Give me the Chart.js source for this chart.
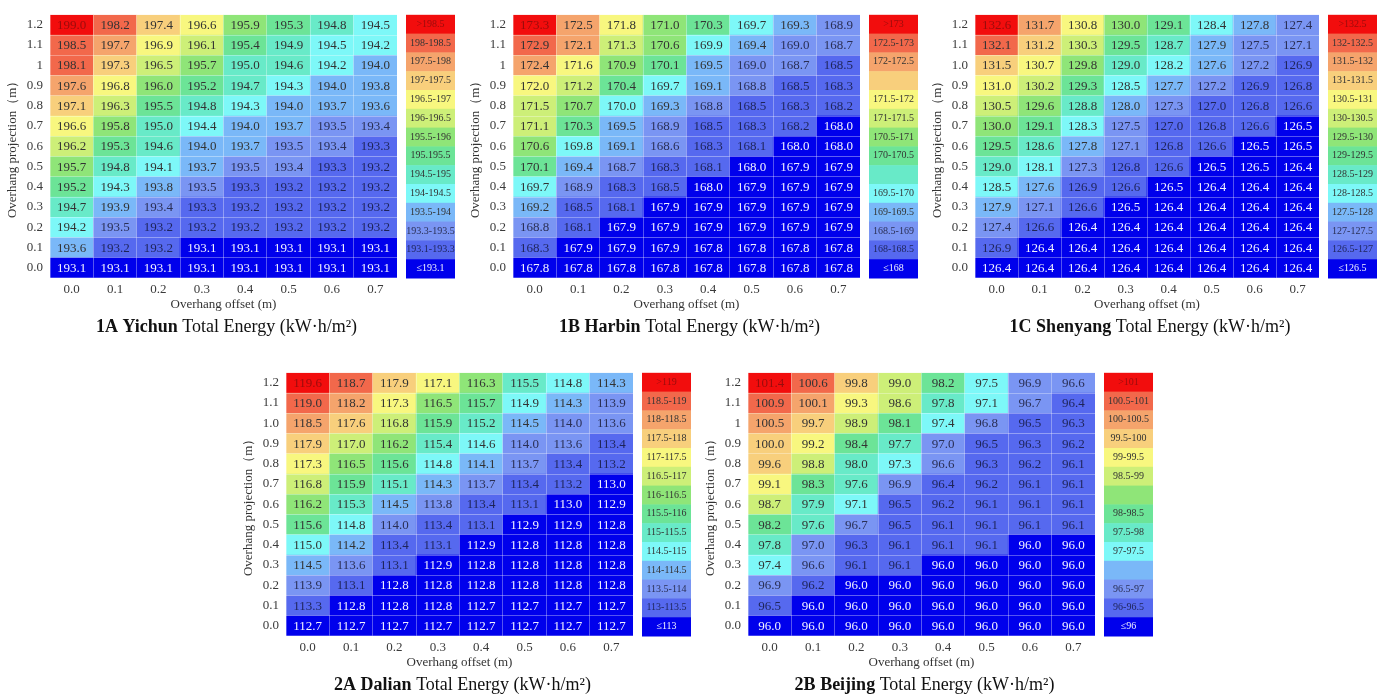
<!DOCTYPE html>
<html>
<head>
<meta charset="utf-8">
<title>Total Energy vs overhang</title>
<script src="https://cdn.jsdelivr.net/npm/chart.js"></script>
<style>
  html, body { margin: 0; padding: 0; background: #fff; overflow: hidden; }
  body { width: 1392px; height: 697px; position: relative; }
  .panel { position: absolute; }
</style>
</head>
<body>
<div class="panel" style="left:0px;top:0px"><canvas id="c1A" width="470" height="340"></canvas></div>
<div class="panel" style="left:463px;top:0px"><canvas id="c1B" width="470" height="340"></canvas></div>
<div class="panel" style="left:925px;top:0px"><canvas id="c1C" width="467" height="340"></canvas></div>
<div class="panel" style="left:236px;top:358px"><canvas id="c2A" width="470" height="340"></canvas></div>
<div class="panel" style="left:698px;top:358px"><canvas id="c2B" width="470" height="340"></canvas></div>

<script>
// x categories: overhang offset (m)
const offsets = ["0.0", "0.1", "0.2", "0.3", "0.4", "0.5", "0.6", "0.7"];

// y labels: overhang projection (m), bottom to top
const projShort = ["0.0", "0.1", "0.2", "0.3", "0.4", "0.5", "0.6", "0.7", "0.8", "0.9", "1", "1.1", "1.2"];
const projLong = ["0.0", "0.1", "0.2", "0.3", "0.4", "0.5", "0.6", "0.7", "0.8", "0.9", "1.0", "1.1", "1.2"];

// bin colours, top (highest) to bottom (lowest)
const binColors = [
  "#f20d0d", "#f2684b", "#f5a46c", "#f8cf7c", "#f8f77f", "#cdef78", "#8fe578",
  "#6ce497", "#68eac8", "#7df8f8", "#7ab8f8", "#7a95f3", "#5669ef", "#0000ec"
];
const binText = [
  "#9a0c0c", "#333", "#333", "#333", "#333", "#333", "#333",
  "#333", "#333", "#333", "#333", "#2a2f55", "#1e2459", "#f2f2ff"
];

// ---- 1A Yichun (rows from 1.2 down to 0.0) ----
const yichun = [
  [199.0, 198.2, 197.4, 196.6, 195.9, 195.3, 194.8, 194.5],
  [198.5, 197.7, 196.9, 196.1, 195.4, 194.9, 194.5, 194.2],
  [198.1, 197.3, 196.5, 195.7, 195.0, 194.6, 194.2, 194.0],
  [197.6, 196.8, 196.0, 195.2, 194.7, 194.3, 194.0, 193.8],
  [197.1, 196.3, 195.5, 194.8, 194.3, 194.0, 193.7, 193.6],
  [196.6, 195.8, 195.0, 194.4, 194.0, 193.7, 193.5, 193.4],
  [196.2, 195.3, 194.6, 194.0, 193.7, 193.5, 193.4, 193.3],
  [195.7, 194.8, 194.1, 193.7, 193.5, 193.4, 193.3, 193.2],
  [195.2, 194.3, 193.8, 193.5, 193.3, 193.2, 193.2, 193.2],
  [194.7, 193.9, 193.4, 193.3, 193.2, 193.2, 193.2, 193.2],
  [194.2, 193.5, 193.2, 193.2, 193.2, 193.2, 193.2, 193.2],
  [193.6, 193.2, 193.2, 193.1, 193.1, 193.1, 193.1, 193.1],
  [193.1, 193.1, 193.1, 193.1, 193.1, 193.1, 193.1, 193.1]
];
const yichunBreaks = [198.5, 198, 197.5, 197, 196.5, 196, 195.5, 195, 194.5, 194, 193.5, 193.3, 193.1];
const yichunKeys = [">198.5", "198-198.5", "197.5-198", "197-197.5", "196.5-197", "196-196.5", "195.5-196",
  "195.195.5", "194.5-195", "194-194.5", "193.5-194", "193.3-193.5", "193.1-193.3", "≤193.1"];

// ---- 1B Harbin ----
const harbin = [
  [173.3, 172.5, 171.8, 171.0, 170.3, 169.7, 169.3, 168.9],
  [172.9, 172.1, 171.3, 170.6, 169.9, 169.4, 169.0, 168.7],
  [172.4, 171.6, 170.9, 170.1, 169.5, 169.0, 168.7, 168.5],
  [172.0, 171.2, 170.4, 169.7, 169.1, 168.8, 168.5, 168.3],
  [171.5, 170.7, 170.0, 169.3, 168.8, 168.5, 168.3, 168.2],
  [171.1, 170.3, 169.5, 168.9, 168.5, 168.3, 168.2, 168.0],
  [170.6, 169.8, 169.1, 168.6, 168.3, 168.1, 168.0, 168.0],
  [170.1, 169.4, 168.7, 168.3, 168.1, 168.0, 167.9, 167.9],
  [169.7, 168.9, 168.3, 168.5, 168.0, 167.9, 167.9, 167.9],
  [169.2, 168.5, 168.1, 167.9, 167.9, 167.9, 167.9, 167.9],
  [168.8, 168.1, 167.9, 167.9, 167.9, 167.9, 167.9, 167.9],
  [168.3, 167.9, 167.9, 167.9, 167.8, 167.8, 167.8, 167.8],
  [167.8, 167.8, 167.8, 167.8, 167.8, 167.8, 167.8, 167.8]
];
const harbinBreaks = [173, 172.5, 172, 172, 171.5, 171, 170.5, 170, 170, 169.5, 169, 168.5, 168];
const harbinKeys = [">173", "172.5-173", "172-172.5", "", "171.5-172", "171-171.5", "170.5-171",
  "170-170.5", "", "169.5-170", "169-169.5", "168.5-169", "168-168.5", "≤168"];

// ---- 1C Shenyang ----
const shenyang = [
  [132.6, 131.7, 130.8, 130.0, 129.1, 128.4, 127.8, 127.4],
  [132.1, 131.2, 130.3, 129.5, 128.7, 127.9, 127.5, 127.1],
  [131.5, 130.7, 129.8, 129.0, 128.2, 127.6, 127.2, 126.9],
  [131.0, 130.2, 129.3, 128.5, 127.7, 127.2, 126.9, 126.8],
  [130.5, 129.6, 128.8, 128.0, 127.3, 127.0, 126.8, 126.6],
  [130.0, 129.1, 128.3, 127.5, 127.0, 126.8, 126.6, 126.5],
  [129.5, 128.6, 127.8, 127.1, 126.8, 126.6, 126.5, 126.5],
  [129.0, 128.1, 127.3, 126.8, 126.6, 126.5, 126.5, 126.4],
  [128.5, 127.6, 126.9, 126.6, 126.5, 126.4, 126.4, 126.4],
  [127.9, 127.1, 126.6, 126.5, 126.4, 126.4, 126.4, 126.4],
  [127.4, 126.6, 126.4, 126.4, 126.4, 126.4, 126.4, 126.4],
  [126.9, 126.4, 126.4, 126.4, 126.4, 126.4, 126.4, 126.4],
  [126.4, 126.4, 126.4, 126.4, 126.4, 126.4, 126.4, 126.4]
];
const shenyangBreaks = [132.5, 132, 131.5, 131, 130.5, 130, 129.5, 129, 128.5, 128, 127.5, 127, 126.5];
const shenyangKeys = [">132.5", "132-132.5", "131.5-132", "131-131.5", "130.5-131", "130-130.5", "129.5-130",
  "129-129.5", "128.5-129", "128-128.5", "127.5-128", "127-127.5", "126.5-127", "≤126.5"];

// ---- 2A Dalian ----
const dalian = [
  [119.6, 118.7, 117.9, 117.1, 116.3, 115.5, 114.8, 114.3],
  [119.0, 118.2, 117.3, 116.5, 115.7, 114.9, 114.3, 113.9],
  [118.5, 117.6, 116.8, 115.9, 115.2, 114.5, 114.0, 113.6],
  [117.9, 117.0, 116.2, 115.4, 114.6, 114.0, 113.6, 113.4],
  [117.3, 116.5, 115.6, 114.8, 114.1, 113.7, 113.4, 113.2],
  [116.8, 115.9, 115.1, 114.3, 113.7, 113.4, 113.2, 113.0],
  [116.2, 115.3, 114.5, 113.8, 113.4, 113.1, 113.0, 112.9],
  [115.6, 114.8, 114.0, 113.4, 113.1, 112.9, 112.9, 112.8],
  [115.0, 114.2, 113.4, 113.1, 112.9, 112.8, 112.8, 112.8],
  [114.5, 113.6, 113.1, 112.9, 112.8, 112.8, 112.8, 112.8],
  [113.9, 113.1, 112.8, 112.8, 112.8, 112.8, 112.8, 112.8],
  [113.3, 112.8, 112.8, 112.8, 112.7, 112.7, 112.7, 112.7],
  [112.7, 112.7, 112.7, 112.7, 112.7, 112.7, 112.7, 112.7]
];
const dalianBreaks = [119, 118.5, 118, 117.5, 117, 116.5, 116, 115.5, 115, 114.5, 114, 113.5, 113];
const dalianKeys = [">119", "118.5-119", "118-118.5", "117.5-118", "117-117.5", "116.5-117", "116-116.5",
  "115.5-116", "115-115.5", "114.5-115", "114-114.5", "113.5-114", "113-113.5", "≤113"];

// ---- 2B Beijing ----
const beijing = [
  [101.4, 100.6, 99.8, 99.0, 98.2, 97.5, 96.9, 96.6],
  [100.9, 100.1, 99.3, 98.6, 97.8, 97.1, 96.7, 96.4],
  [100.5, 99.7, 98.9, 98.1, 97.4, 96.8, 96.5, 96.3],
  [100.0, 99.2, 98.4, 97.7, 97.0, 96.5, 96.3, 96.2],
  [99.6, 98.8, 98.0, 97.3, 96.6, 96.3, 96.2, 96.1],
  [99.1, 98.3, 97.6, 96.9, 96.4, 96.2, 96.1, 96.1],
  [98.7, 97.9, 97.1, 96.5, 96.2, 96.1, 96.1, 96.1],
  [98.2, 97.6, 96.7, 96.5, 96.1, 96.1, 96.1, 96.1],
  [97.8, 97.0, 96.3, 96.1, 96.1, 96.1, 96.0, 96.0],
  [97.4, 96.6, 96.1, 96.1, 96.0, 96.0, 96.0, 96.0],
  [96.9, 96.2, 96.0, 96.0, 96.0, 96.0, 96.0, 96.0],
  [96.5, 96.0, 96.0, 96.0, 96.0, 96.0, 96.0, 96.0],
  [96.0, 96.0, 96.0, 96.0, 96.0, 96.0, 96.0, 96.0]
];
const beijingBreaks = [101, 100.5, 100, 99.5, 99, 98.5, 98.5, 98, 97.5, 97, 97, 96.5, 96];
const beijingKeys = [">101", "100.5-101", "100-100.5", "99.5-100", "99-99.5", "98.5-99", "",
  "98-98.5", "97.5-98", "97-97.5", "", "96.5-97", "96-96.5", "≤96"];

const SERIF = "'Liberation Serif', 'Times New Roman', serif";

function binOf(v, breaks) {
  for (let i = 0; i < breaks.length; i++) {
    if (v > breaks[i]) return i;
  }
  return breaks.length;
}

// value text inside every cell + colour key + caption
const heatmapDecor = {
  id: "heatmapDecor",
  afterDraw(chart, args, opts) {
    const ctx = chart.ctx;
    const area = chart.chartArea;
    ctx.save();

    // cell values
    ctx.font = "13px " + SERIF;
    ctx.textAlign = "center";
    ctx.textBaseline = "middle";
    chart.data.datasets.forEach((ds, di) => {
      const meta = chart.getDatasetMeta(di);
      meta.data.forEach((bar, j) => {
        const v = ds.values[j];
        ctx.fillStyle = binText[binOf(v, opts.breaks)];
        ctx.fillText(v.toFixed(1), bar.x, (bar.y + bar.base) / 2 + 0.5);
      });
    });

    // colour key on the right
    const kx = area.right + 9, kw = 49;
    const n = binColors.length;
    const kh = area.height / n;
    binColors.forEach((c, i) => {
      ctx.fillStyle = c;
      ctx.fillRect(kx, area.top + i * kh, kw, kh + 0.5);
    });
    ctx.font = "10px " + SERIF;
    opts.keys.forEach((k, i) => {
      if (!k) return;
      ctx.fillStyle = binText[i];
      ctx.fillText(k, kx + kw / 2, area.top + (i + 0.5) * kh);
    });

    // caption: bold site name + plain rest
    const cx = (area.left + area.right) / 2 + 3;
    const cy = 327;
    const boldFont = "bold 18px " + SERIF;
    const plainFont = "18px " + SERIF;
    ctx.font = boldFont;
    const w1 = ctx.measureText(opts.site).width;
    ctx.font = plainFont;
    const rest = " Total Energy (kW·h/m²)";
    const w2 = ctx.measureText(rest).width;
    let x0 = cx - (w1 + w2) / 2;
    ctx.textAlign = "left";
    ctx.fillStyle = "#111";
    ctx.font = boldFont;
    ctx.fillText(opts.site, x0, cy);
    ctx.font = plainFont;
    ctx.fillText(rest, x0 + w1, cy);

    ctx.restore();
  }
};

function makePanel(id, grid, breaks, keys, projLabels, site) {
  // one stacked dataset per projection row, bottom row first
  const datasets = [];
  for (let r = 0; r < projLabels.length; r++) {
    const row = grid[grid.length - 1 - r];
    datasets.push({
      label: projLabels[r],
      data: offsets.map(() => 1),
      values: row,
      backgroundColor: row.map(v => binColors[binOf(v, breaks)]),
      borderWidth: 0,
      barPercentage: 1,
      categoryPercentage: 1,
      stack: "grid"
    });
  }

  const tickFont = { family: SERIF, size: 13 };
  const lineCol = "rgba(255,255,255,0.33)";

  new Chart(document.getElementById(id), {
    type: "bar",
    data: { labels: offsets, datasets },
    options: {
      responsive: false,
      animation: false,
      layout: { padding: { left: 0, top: 10, right: 73, bottom: 22 } },
      plugins: {
        legend: { display: false },
        tooltip: { enabled: false },
        heatmapDecor: { breaks, keys, site }
      },
      scales: {
        x: {
          stacked: true,
          grid: { display: true, offset: true, color: lineCol, z: 1, drawTicks: false },
          border: { display: false },
          ticks: { color: "#3a3a3a", font: tickFont, padding: 4, maxRotation: 0 },
          title: {
            display: true, text: "Overhang offset (m)", color: "#333",
            font: tickFont, padding: { top: 0, bottom: 6 }
          },
          afterFit: s => { s.height = 40; }
        },
        y: {
          stacked: true,
          min: 0,
          max: projLabels.length,
          afterBuildTicks: s => {
            s.ticks = [];
            for (let i = 0; i <= projLabels.length; i++) s.ticks.push({ value: i });
          },
          grid: { color: lineCol, z: 1, drawTicks: false },
          border: { display: false },
          ticks: {
            color: "#3a3a3a",
            font: tickFont,
            padding: 7,
            labelOffset: -10.3,
            callback: v => projLabels[v] ?? ""
          },
          title: {
            display: true, text: "Overhang projection（m）", color: "#333",
            font: tickFont, padding: { top: 5, bottom: 0 }
          },
          afterFit: s => { s.width = 50; }
        }
      }
    },
    plugins: [heatmapDecor]
  });
}

makePanel("c1A", yichun, yichunBreaks, yichunKeys, projShort, "1A Yichun");
makePanel("c1B", harbin, harbinBreaks, harbinKeys, projShort, "1B Harbin");
makePanel("c1C", shenyang, shenyangBreaks, shenyangKeys, projLong, "1C Shenyang");
makePanel("c2A", dalian, dalianBreaks, dalianKeys, projLong, "2A Dalian");
makePanel("c2B", beijing, beijingBreaks, beijingKeys, projShort, "2B Beijing");
</script>
</body>
</html>
